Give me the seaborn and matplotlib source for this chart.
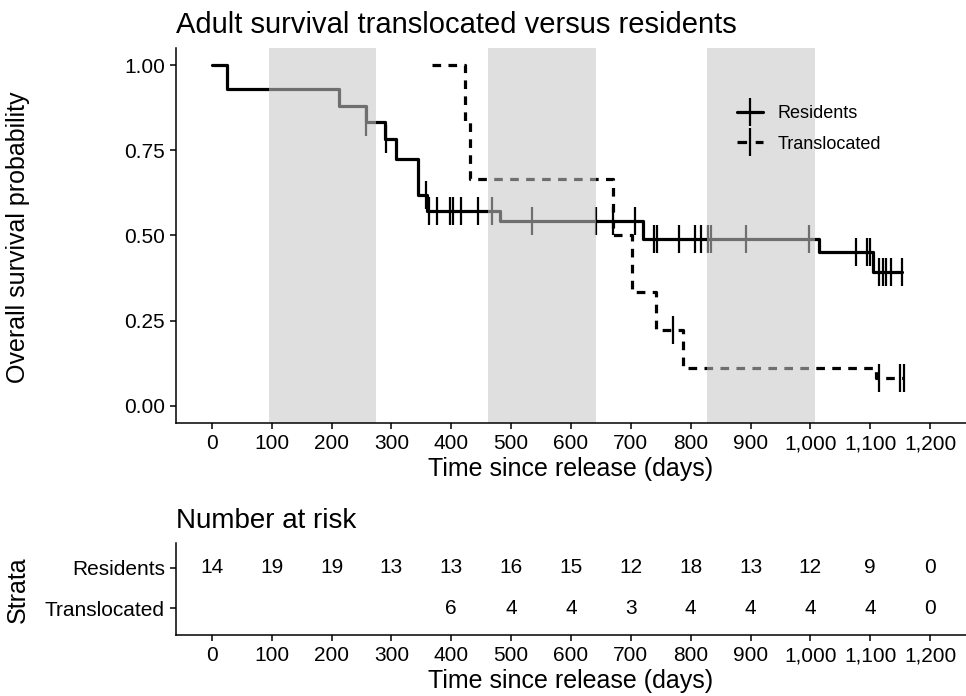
import numpy as np
import pandas as pd
import matplotlib
matplotlib.use("Agg")
import matplotlib.pyplot as plt
import matplotlib.ticker as mticker
from matplotlib.lines import Line2D
import seaborn as sns

# Kaplan-Meier steps (time in days, survival probability)
res_times = [0, 26, 213, 257, 290, 308, 345, 360, 482, 720, 1015, 1104, 1153]
res_surv = [1.0, 0.929, 0.880, 0.834, 0.782, 0.723, 0.619, 0.573, 0.543, 0.491, 0.451, 0.394, 0.394]
res_censor = [257, 291, 357, 362, 376, 398, 403, 417, 445, 468, 534, 642, 670, 707,
              738, 743, 781, 808, 818, 829, 834, 893, 998, 1076, 1094, 1100,
              1115, 1122, 1127, 1134, 1153]

trans_times = [368, 423, 431, 671, 702, 742, 787, 1109, 1157]
trans_surv = [1.0, 0.833, 0.667, 0.5, 0.333, 0.222, 0.111, 0.083, 0.083]
trans_censor = [770, 1115, 1149, 1157]

# shaded periods (days since release)
band_start = [95, 461, 828]
band_end = [275, 642, 1007]

# number at risk table
risk_times = [0, 100, 200, 300, 400, 500, 600, 700, 800, 900, 1000, 1100, 1200]
risk_res = [14, 19, 19, 13, 13, 16, 15, 12, 18, 13, 12, 9, 0]
risk_trans = [None, None, None, None, 6, 4, 4, 3, 4, 4, 4, 4, 0]

sns.set_theme(style="ticks")
plt.rcParams["font.family"] = ["Liberation Sans", "DejaVu Sans"]
plt.rcParams["axes.linewidth"] = 1.1
plt.rcParams["text.color"] = "black"
plt.rcParams["axes.labelcolor"] = "black"
plt.rcParams["axes.edgecolor"] = "black"

LW = 2.3
DASH = (0, (2.7, 2.3))


def censor_levels(times, surv, cens):
    idx = np.searchsorted(times, cens, side="right") - 1
    return np.asarray(surv)[idx]


res_df = pd.DataFrame({"time": res_times, "surv": res_surv})
trans_df = pd.DataFrame({"time": trans_times, "surv": trans_surv})
res_cens_df = pd.DataFrame({"time": res_censor,
                            "surv": censor_levels(res_times, res_surv, res_censor)})
trans_cens_df = pd.DataFrame({"time": trans_censor,
                              "surv": censor_levels(trans_times, trans_surv, trans_censor)})

fig = plt.figure(figsize=(9.66, 6.96), dpi=100)
ax = fig.add_axes([176 / 966, 1 - 423 / 696, (966 - 176) / 966, 375 / 696])
axt = fig.add_axes([176 / 966, 1 - 635 / 696, (966 - 176) / 966, 92 / 696])

# ---- survival curves
sns.lineplot(data=res_df, x="time", y="surv", drawstyle="steps-post", estimator=None,
             sort=False, color="black", lw=LW, ax=ax, zorder=2)
sns.lineplot(data=trans_df, x="time", y="surv", drawstyle="steps-post", estimator=None,
             sort=False, color="black", lw=LW, linestyle=DASH, ax=ax, zorder=2)
sns.scatterplot(data=res_cens_df, x="time", y="surv", marker="|", s=380, color="black",
                linewidth=1.6, ax=ax, zorder=2.1, legend=False)
sns.scatterplot(data=trans_cens_df, x="time", y="surv", marker="|", s=380, color="black",
                linewidth=1.6, ax=ax, zorder=2.1, legend=False)

for b0, b1 in zip(band_start, band_end):
    ax.axvspan(b0, b1, color=(0.78, 0.78, 0.78), alpha=0.56, lw=0, zorder=2.4)

ax.set_xlim(-60, 1260)
ax.set_ylim(-0.05, 1.05)
ax.set_xticks(risk_times)
ax.set_yticks([0, 0.25, 0.5, 0.75, 1.0])
ax.yaxis.set_major_formatter(mticker.FormatStrFormatter("%.2f"))
ax.xaxis.set_major_formatter(mticker.FuncFormatter(lambda v, _: f"{int(v):,}"))
ax.tick_params(length=4.5, width=1.1, pad=3.5, labelsize=15, colors="black")
ax.set_ylabel("")
ax.set_xlabel("Time since release (days)", fontsize=18, labelpad=3)
ax.set_title("Adult survival translocated versus residents", loc="left", fontsize=21, pad=11)
sns.despine(ax=ax)

handles = [
    Line2D([], [], color="black", lw=LW, marker="|", markersize=20, mew=1.6),
    Line2D([], [], color="black", lw=LW, linestyle=(0, (3, 2.7)), marker="|",
           markersize=20, mew=1.6),
]
ax.legend(handles, ["Residents", "Translocated"], loc="center left",
          bbox_to_anchor=(0.71, 0.784), frameon=False, fontsize=13, borderpad=0,
          borderaxespad=0, handlelength=1.45, handletextpad=0.8, labelspacing=0.75)

fig.text(18 / 966, 1 - 237 / 696, "Overall survival probability", rotation=90,
         ha="center", va="center", fontsize=18)

# ---- number at risk table
for t, n in zip(risk_times, risk_res):
    axt.text(t, 1, str(n), ha="center", va="center", fontsize=15)
for t, n in zip(risk_times, risk_trans):
    if n is not None:
        axt.text(t, 0, str(n), ha="center", va="center", fontsize=15)

axt.set_xlim(-60, 1260)
axt.set_ylim(-0.67, 1.62)
axt.set_xticks(risk_times)
axt.xaxis.set_major_formatter(mticker.FuncFormatter(lambda v, _: f"{int(v):,}"))
axt.set_yticks([1, 0])
axt.set_yticklabels(["Residents", "Translocated"])
axt.tick_params(length=4.5, width=1.1, pad=3.5, labelsize=15, colors="black")
axt.set_xlabel("Time since release (days)", fontsize=18, labelpad=3)
axt.set_title("Number at risk", loc="left", fontsize=20, pad=11)
sns.despine(ax=axt)

fig.text(18 / 966, 1 - 590 / 696, "Strata", rotation=90, ha="center", va="center",
         fontsize=18)

fig.savefig("out.png", dpi=100)
